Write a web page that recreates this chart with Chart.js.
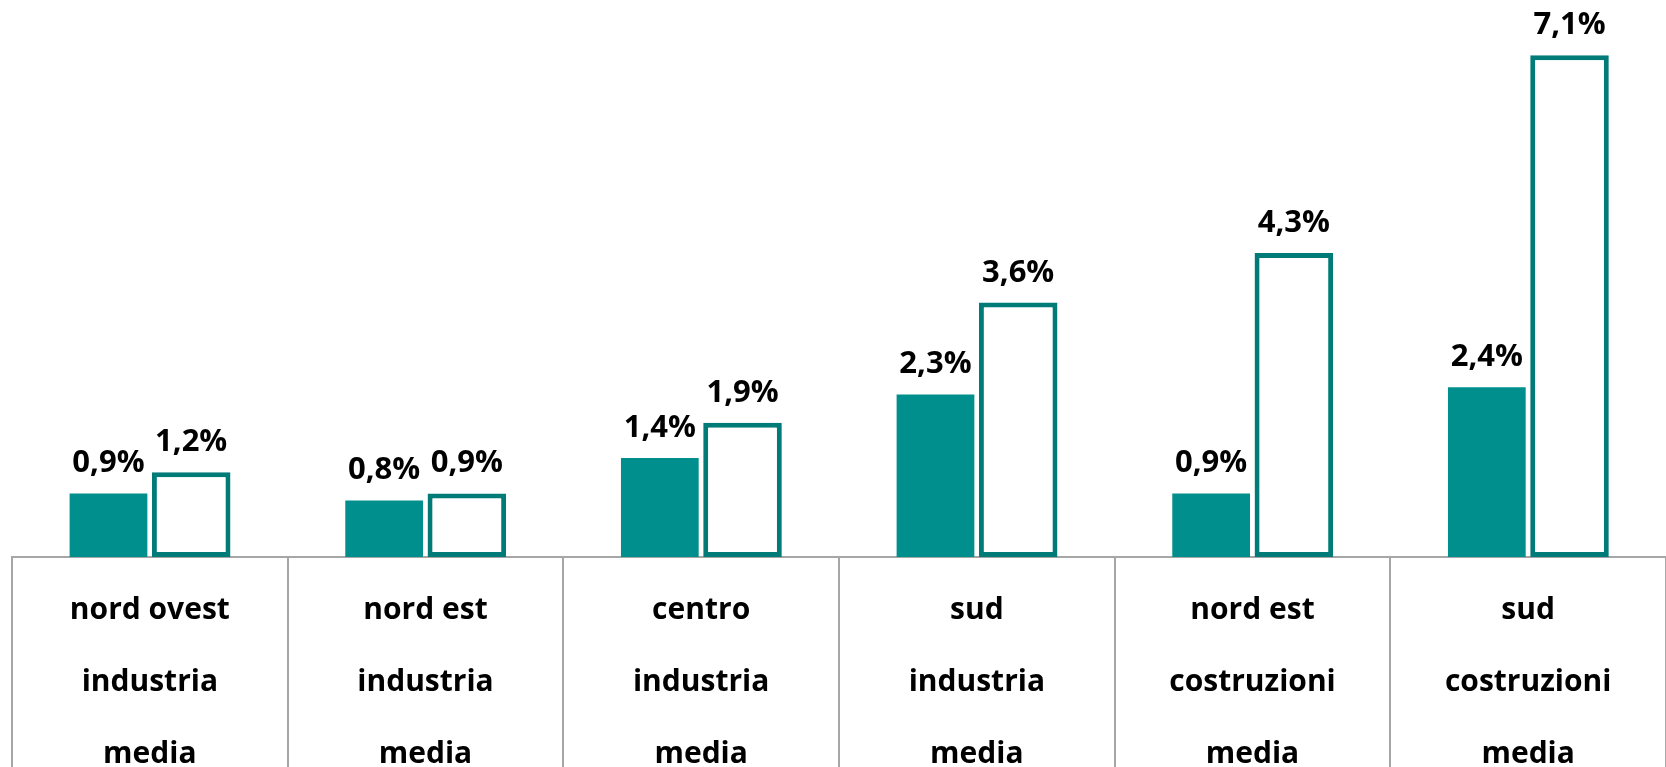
<!DOCTYPE html>
<html>
<head>
<meta charset="utf-8">
<script src="https://cdn.jsdelivr.net/npm/chart.js@4/dist/chart.umd.min.js"></script>
<style>
  html, body { margin: 0; padding: 0; background: #fff; }
  #wrap { width: 1666px; height: 767px; }
</style>
</head>
<body>
<div id="wrap"><canvas id="chart"></canvas></div>
<script>
// categorie (etichette su tre righe)
var categorie = [
  ['nord ovest', 'industria', 'media'],
  ['nord est', 'industria', 'media'],
  ['centro', 'industria', 'media'],
  ['sud', 'industria', 'media'],
  ['nord est', 'costruzioni', 'media'],
  ['sud', 'costruzioni', 'media']
];
// serie piena e serie vuota (valori in %)
var serie1 = [0.9, 0.8, 1.4, 2.3, 0.9, 2.4];
var serie2 = [1.2, 0.9, 1.9, 3.6, 4.3, 7.1];

var teal = '#008F8C';
var tealDark = '#007B78';

// etichette dei valori sopra le barre
var valueLabels = {
  id: 'valueLabels',
  afterDatasetsDraw: function(chart) {
    var ctx = chart.ctx;
    ctx.save();
    ctx.font = 'bold 31px "Open Sans"';
    ctx.fillStyle = '#000';
    ctx.textAlign = 'center';
    ctx.textBaseline = 'alphabetic';
    chart.data.datasets.forEach(function(ds, i) {
      chart.getDatasetMeta(i).data.forEach(function(bar, j) {
        var txt = ds.data[j].toFixed(1).replace('.', ',') + '%';
        ctx.fillText(txt, bar.x, bar.y - 21);
      });
    });
    ctx.restore();
  }
};

var ctx = document.getElementById('chart').getContext('2d');
var myChart = new Chart(ctx, {
  type: 'bar',
  data: {
    labels: categorie,
    datasets: [{
      data: serie1,
      backgroundColor: teal,
      borderWidth: 0,
      categoryPercentage: 0.6,
      barPercentage: 0.94
    }, {
      data: serie2,
      backgroundColor: '#fff',
      borderColor: tealDark,
      borderWidth: 5,
      borderSkipped: false,
      categoryPercentage: 0.6,
      barPercentage: 0.95
    }]
  },
  options: {
    responsive: true,
    maintainAspectRatio: false,
    animation: false,
    layout: { padding: { left: 12, right: 0, top: 0, bottom: 0 } },
    plugins: { legend: { display: false }, tooltip: { enabled: false } },
    scales: {
      y: { display: false, min: 0, max: 7.88 },
      x: {
        afterFit: function(scale) { scale.height = 210; },
        border: { color: '#a6a6a6', width: 2 },
        grid: {
          offset: true,
          drawOnChartArea: false,
          drawTicks: true,
          tickLength: 210,
          color: '#a6a6a6',
          lineWidth: 2
        },
        ticks: {
          padding: -193,
          color: '#000',
          maxRotation: 0,
          font: { family: '"Open Sans"', size: 30, weight: 'bold', lineHeight: 2.4 }
        }
      }
    }
  },
  plugins: [valueLabels]
});
</script>
</body>
</html>
